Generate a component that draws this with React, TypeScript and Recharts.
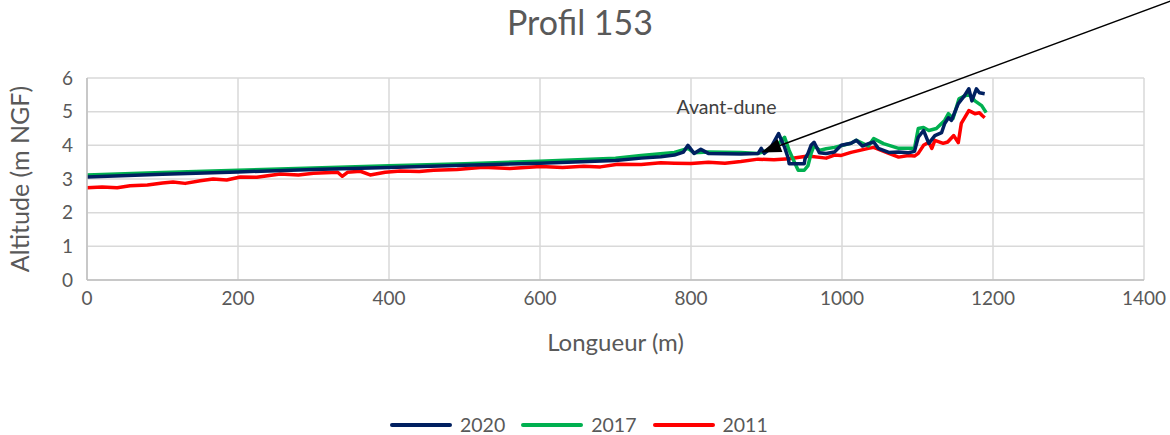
import React from "react";
import {
  LineChart,
  Line,
  XAxis,
  YAxis,
  CartesianGrid,
  ReferenceLine,
  ReferenceDot,
} from "recharts";

// values (distance in m, altitude in m NGF)
const dist2020 = [0, 100, 200, 300, 400, 500, 600, 700, 734, 760, 778, 790, 796, 804, 813, 823, 866, 889, 893, 897, 905, 916, 924, 929, 930, 950, 951, 955, 959, 963, 970, 979, 990, 999, 1012, 1019, 1027, 1035, 1042, 1048, 1062, 1075, 1088, 1096, 1101, 1108, 1115, 1123, 1132, 1136, 1141, 1145, 1154, 1162, 1168, 1172, 1178, 1182, 1189];
const alt2020 = [3.06, 3.14, 3.21, 3.28, 3.34, 3.41, 3.47, 3.55, 3.62, 3.66, 3.71, 3.8, 4.0, 3.76, 3.88, 3.76, 3.74, 3.76, 3.91, 3.76, 3.9, 4.35, 3.94, 3.6, 3.45, 3.45, 3.6, 3.76, 4.0, 4.09, 3.78, 3.76, 3.8, 4.0, 4.06, 4.15, 3.98, 4.05, 4.1, 3.91, 3.79, 3.8, 3.78, 3.82, 4.24, 4.44, 4.06, 4.29, 4.38, 4.65, 4.82, 4.74, 5.24, 5.47, 5.68, 5.32, 5.68, 5.56, 5.53];

const dist2017 = [0, 100, 200, 300, 400, 500, 600, 700, 734, 778, 796, 804, 823, 866, 889, 910, 924, 930, 937, 942, 950, 955, 959, 963, 970, 979, 990, 1012, 1019, 1035, 1042, 1055, 1075, 1096, 1101, 1108, 1115, 1125, 1136, 1141, 1147, 1155, 1168, 1176, 1185, 1191];
const alt2017 = [3.12, 3.19, 3.26, 3.33, 3.39, 3.45, 3.53, 3.62, 3.7, 3.79, 3.91, 3.78, 3.8, 3.79, 3.76, 3.91, 4.24, 3.85, 3.5, 3.26, 3.26, 3.4, 3.75, 4.0, 3.85, 3.9, 3.94, 4.06, 4.15, 3.98, 4.2, 4.05, 3.91, 3.91, 4.5, 4.53, 4.44, 4.5, 4.74, 4.94, 4.8, 5.38, 5.53, 5.32, 5.18, 4.97];

const dist2011 = [0, 20, 40, 57, 80, 100, 114, 130, 150, 167, 185, 203, 225, 256, 280, 300, 332, 338, 345, 362, 375, 395, 415, 440, 459, 490, 525, 560, 601, 630, 658, 680, 703, 734, 760, 778, 800, 823, 845, 866, 889, 910, 930, 955, 979, 990, 999, 1012, 1035, 1042, 1062, 1075, 1088, 1096, 1101, 1108, 1115, 1119, 1123, 1134, 1140, 1148, 1154, 1158, 1168, 1176, 1182, 1186, 1189];
const alt2011 = [2.74, 2.76, 2.74, 2.8, 2.82, 2.88, 2.91, 2.87, 2.95, 3.0, 2.97, 3.06, 3.05, 3.15, 3.12, 3.17, 3.2, 3.08, 3.2, 3.23, 3.12, 3.2, 3.24, 3.22, 3.26, 3.28, 3.35, 3.31, 3.37, 3.34, 3.38, 3.36, 3.44, 3.43, 3.48, 3.47, 3.46, 3.5, 3.47, 3.52, 3.59, 3.57, 3.6, 3.68, 3.62, 3.71, 3.7, 3.79, 3.91, 3.94, 3.76, 3.65, 3.7, 3.68, 3.76, 4.0, 4.09, 3.91, 4.15, 4.06, 4.1, 4.29, 4.08, 4.65, 5.03, 4.94, 4.97, 4.88, 4.82];

const xTicks = [0, 200, 400, 600, 800, 1000, 1200, 1400];
const yTicks = [0, 1, 2, 3, 4, 5, 6];

// annotation: arrow from outside the plot down to the fore-dune
const arrowFrom = { x: 1437, y: 8.3 };
const arrowTo = { x: 893, y: 3.79 };
const noteAt = { x: 847, y: 5.14 };

const series = [
  { name: "2020", color: "#002060" },
  { name: "2017", color: "#00B050" },
  { name: "2011", color: "#FF0000" },
];

const zip = (d: number[], a: number[]) => d.map((x, i) => ({ dist: x, alt: a[i] }));

const FONT = "Lato, 'Liberation Sans', sans-serif";
const GREY = "#595959";

function Arrow(props: any) {
  const { x1, y1, x2, y2 } = props;
  const ang = Math.atan2(y2 - y1, x2 - x1);
  const len = 20;
  const half = 7;
  const bx = x2 - len * Math.cos(ang);
  const by = y2 - len * Math.sin(ang);
  const px = -Math.sin(ang) * half;
  const py = Math.cos(ang) * half;
  return (
    <g>
      <line x1={x1} y1={y1} x2={bx} y2={by} stroke="#000" strokeWidth={1.5} />
      <polygon points={`${x2},${y2} ${bx + px},${by + py} ${bx - px},${by - py}`} fill="#000" />
    </g>
  );
}

export default function App() {
  return (
    <div style={{ position: "absolute", left: 0, top: 0, width: 1170, height: 435, background: "#fff", fontFamily: FONT, overflow: "hidden" }}>
      <div style={{ position: "absolute", top: 5, left: 0, width: 1160, textAlign: "center", fontSize: 34, lineHeight: "34px", color: GREY }}>
        Profil 153
      </div>
      <LineChart width={1170} height={435} data={[]} margin={{ top: 78, right: 26, left: 30, bottom: 80 }}>
        <CartesianGrid stroke="#d9d9d9" strokeWidth={1.5} />
        <XAxis
          type="number"
          dataKey="dist"
          domain={[0, 1400]}
          ticks={xTicks}
          allowDataOverflow
          height={75}
          tickLine={false}
          tickMargin={6}
          axisLine={{ stroke: "#bfbfbf", strokeWidth: 1.5 }}
          tick={{ fill: GREY, fontSize: 19, fontFamily: FONT }}
          label={{ value: "Longueur (m)", position: "insideBottom", offset: 4, fill: GREY, fontSize: 24, fontFamily: FONT }}
        />
        <YAxis
          type="number"
          domain={[0, 6]}
          ticks={yTicks}
          width={57}
          tickLine={false}
          tickMargin={8}
          axisLine={{ stroke: "#bfbfbf", strokeWidth: 1.5 }}
          tick={{ fill: GREY, fontSize: 19, fontFamily: FONT }}
          label={{ value: "Altitude (m NGF)", angle: -90, position: "insideLeft", offset: -10, fill: GREY, fontSize: 25, fontFamily: FONT, style: { textAnchor: "middle" } }}
        />
        <Line data={zip(dist2011, alt2011)} dataKey="alt" type="linear" dot={false} stroke="#FF0000" strokeWidth={3.5} strokeLinejoin="round" isAnimationActive={false} />
        <Line data={zip(dist2017, alt2017)} dataKey="alt" type="linear" dot={false} stroke="#00B050" strokeWidth={3.5} strokeLinejoin="round" isAnimationActive={false} />
        <Line data={zip(dist2020, alt2020)} dataKey="alt" type="linear" dot={false} stroke="#002060" strokeWidth={3.5} strokeLinejoin="round" isAnimationActive={false} />
        <ReferenceLine
          segment={[arrowFrom, arrowTo]}
          ifOverflow="visible"
          shape={(p: any) => <Arrow {...p} />}
        />
        <ReferenceDot
          x={noteAt.x}
          y={noteAt.y}
          r={0}
          stroke="none"
          fill="none"
          label={{ value: "Avant-dune", position: "center", fill: "#404040", fontSize: 19.5, fontFamily: FONT }}
        />
      </LineChart>
      <div style={{ position: "absolute", top: 415, left: 390, display: "flex", alignItems: "center", fontSize: 19.5, lineHeight: "20px", color: GREY }}>
        {series.map((s) => (
          <div key={s.name} style={{ display: "flex", alignItems: "center", marginRight: 16 }}>
            <span style={{ display: "inline-block", width: 62, height: 4, borderRadius: 2, background: s.color, marginRight: 8 }} />
            <span>{s.name}</span>
          </div>
        ))}
      </div>
    </div>
  );
}
